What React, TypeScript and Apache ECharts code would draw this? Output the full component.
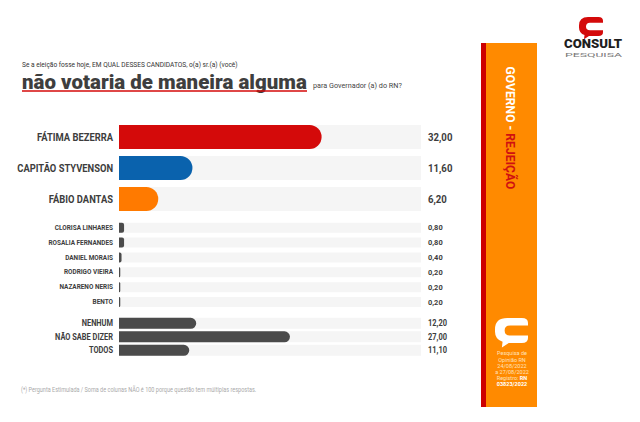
import React, { useEffect, useRef } from "react";
import * as echarts from "echarts";

const topCats = ["FÁTIMA BEZERRA", "CAPITÃO STYVENSON", "FÁBIO DANTAS"];
const topVals = [32.0, 11.6, 6.2];
const topColors = ["#d40a0a", "#0a62ad", "#ff7a00"];

const midCats = ["CLORISA LINHARES", "ROSALIA FERNANDES", "DANIEL MORAIS", "RODRIGO VIEIRA", "NAZARENO NERIS", "BENTO"];
const midVals = [0.8, 0.8, 0.4, 0.2, 0.2, 0.2];

const botCats = ["NENHUM", "NÃO SABE DIZER", "TODOS"];
const botVals = [12.2, 27.0, 11.1];

const MAX = 47.7;
const GRAY = "#4b4b4b";
const TRACK = "#f5f5f5";
const LABEL_COLOR = "#3d3d3d";

const LOGO_D =
  "M9 0 L19.5 0 Q24 0 24 4 L24 6 L11 6 Q7 6 7 10 Q7 14 11 14 L24 14 L24 16 Q24 20 19.5 20 L10 20 L5 23.5 L5.5 19 Q0 17 0 11 L0 9 Q0 0 9 0 Z";

let registered = false;
function registerLogo() {
  if (registered) return;
  echarts.graphic.registerShape("clogo", (echarts.graphic as any).extendPath(LOGO_D, {}));
  registered = true;
}

function fmt(v: number) {
  return v.toFixed(2).replace(".", ",");
}

let ctx: CanvasRenderingContext2D | null = null;
function fit(text: string, font: string, target: number) {
  if (!ctx) ctx = document.createElement("canvas").getContext("2d");
  if (!ctx) return 1;
  ctx.font = font;
  const w = ctx.measureText(text).width;
  return w > 0 ? target / w : 1;
}

export default function App() {
  const ref = useRef<HTMLDivElement>(null);
  useEffect(() => {
    if (!ref.current) return;
    registerLogo();
    const chart = echarts.init(ref.current, null, { renderer: "svg" });

    const groups = [
      { cats: topCats, vals: topVals, top: 121.5, height: 93, bw: 24, r: 12, colors: topColors,
        lf: "bold 10px Roboto", lref: "FÁTIMA BEZERRA", lw: 76, vf: "bold 10px Roboto", vref: "32,00", vw: 24.4 },
      { cats: midCats, vals: midVals, top: 220.3, height: 89.2, bw: 10, r: 2, colors: null,
        lf: "bold 7.5px Roboto", lref: "ROSALIA FERNANDES", lw: 64.7, vf: "bold 7.5px Roboto", vref: "0,80", vw: 14.7 },
      { cats: botCats, vals: botVals, top: 316.6, height: 40.5, bw: 11, r: 5.5, colors: null,
        lf: "bold 8.5px Roboto", lref: "NÃO SABE DIZER", lw: 58, vf: "bold 8.5px Roboto", vref: "27,00", vw: 19 },
    ];

    const grid: any[] = [];
    const xAxis: any[] = [];
    const yAxis: any[] = [];
    const series: any[] = [];
    groups.forEach((g, i) => {
      grid.push({ left: 119, width: 302, top: g.top, height: g.height });
      xAxis.push({ type: "value", gridIndex: i, min: 0, max: MAX, show: false });
      yAxis.push({
        type: "category",
        gridIndex: i,
        data: g.cats,
        inverse: true,
        axisLine: { show: false },
        axisTick: { show: false },
        splitLine: { show: false },
        axisLabel: { show: false },
      });
      series.push({
        type: "bar",
        xAxisIndex: i,
        yAxisIndex: i,
        data: g.cats.map(() => MAX),
        barWidth: g.bw,
        silent: true,
        itemStyle: { color: TRACK },
      });
      series.push({
        type: "bar",
        xAxisIndex: i,
        yAxisIndex: i,
        barGap: "-100%",
        barWidth: g.bw,
        data: g.vals.map((v, k) => ({
          value: v,
          itemStyle: { color: g.colors ? g.colors[k] : GRAY, borderRadius: [0, g.r, g.r, 0] },
        })),
      });
    });

    chart.setOption({
      animation: false,
      backgroundColor: "#ffffff",
      grid,
      xAxis,
      yAxis,
      series,
    });

    const subText = "Se a eleição fosse hoje, EM QUAL DESSES CANDIDATOS, o(a) sr.(a) (você)";
    const subFont = "8px Roboto";
    const titleText = "não votaria de maneira alguma";
    const titleFont = "900 21px Roboto";
    const paraText = "para Governador (a) do RN?";
    const paraFont = "7.5px Roboto";
    const footText = "(*) Pergunta Estimulada / Soma de colunas NÃO é 100 porque questão tem múltiplas respostas.";
    const footFont = "6.5px Roboto";
    const vertText = "GOVERNO - REJEIÇÃO";
    const vertFont = "bold 13px Roboto";
    const consultFont = "900 12px Roboto";
    const pesqFont = "6px Roboto";

    const infoLines = ["Pesquisa de", "Opinião RN", "24/08/2022", "a 27/08/2022"];

    const graphic: any[] = [
      { type: "text", x: 22, y: 64, scaleX: fit(subText, subFont, 216), style: { text: subText, font: subFont, fill: "#333", verticalAlign: "middle" } },
      { type: "text", x: 22, y: 82, scaleX: fit(titleText, titleFont, 285), style: { text: titleText, font: titleFont, fill: "#3e3e3e", verticalAlign: "middle" } },
      { type: "line", shape: { x1: 22, y1: 91, x2: 307, y2: 91 }, style: { stroke: "#d40a0a", lineWidth: 1.5 } },
      { type: "text", x: 313, y: 85, scaleX: fit(paraText, paraFont, 89), style: { text: paraText, font: paraFont, fill: "#444", verticalAlign: "middle" } },
      { type: "text", x: 21, y: 389, scaleX: fit(footText, footFont, 236), style: { text: footText, font: footFont, fill: "#aaa", verticalAlign: "middle" } },
      // logo
      { type: "clogo", x: 579, y: 17, scaleX: 24 / 24, scaleY: 19 / 20, style: { fill: "#d40a0a" } },
      { type: "text", x: 593, y: 44, scaleX: fit("CONSULT", consultFont, 58), style: { text: "CONSULT", font: consultFont, fill: "#1e1e1e", align: "center", verticalAlign: "middle" } },
      { type: "text", x: 593.5, y: 55, scaleX: fit("PESQUISA", pesqFont, 57), style: { text: "PESQUISA", font: pesqFont, fill: "#777", align: "center", verticalAlign: "middle" } },
      // sidebar
      { type: "rect", shape: { x: 481, y: 43, width: 5, height: 364 }, style: { fill: "#cc0000" } },
      { type: "rect", shape: { x: 486, y: 43, width: 51, height: 364 }, style: { fill: "#ff8a00" } },
      {
        type: "text",
        x: 511,
        y: 128,
        rotation: -Math.PI / 2,
        scaleX: fit(vertText, vertFont, 123),
        style: {
          text: "{w|GOVERNO - }{r|REJEIÇÃO}",
          align: "center",
          verticalAlign: "middle",
          rich: {
            w: { fill: "#ffffff", font: vertFont },
            r: { fill: "#d01010", font: vertFont },
          },
        },
      },
      { type: "clogo", x: 495, y: 318, scaleX: 33 / 24, scaleY: 25 / 20, style: { fill: "#ffffff" } },
    ];
    infoLines.forEach((t, k) => {
      graphic.push({ type: "text", x: 512, y: 353.3 + k * 6.2, style: { text: t, font: "5.5px Roboto", fill: "#ffe2bd", align: "center", verticalAlign: "middle" } });
    });
    graphic.push({
      type: "text",
      x: 512,
      y: 353.3 + 4 * 6.2,
      style: {
        text: "{a|Registro: }{b|RN}",
        align: "center",
        verticalAlign: "middle",
        rich: { a: { font: "5.5px Roboto", fill: "#ffe2bd" }, b: { font: "bold 5.5px Roboto", fill: "#ffffff" } },
      },
    });
    graphic.push({ type: "text", x: 512, y: 353.3 + 5 * 6.2, style: { text: "03823/2022", font: "bold 5.5px Roboto", fill: "#ffffff", align: "center", verticalAlign: "middle" } });

    // category and value labels placed through each group's axes
    groups.forEach((g, i) => {
      const ls = fit(g.lref, g.lf, g.lw);
      const vs = fit(g.vref, g.vf, g.vw);
      const labelX = (chart.convertToPixel({ xAxisIndex: i } as any, 0) as number) - 6;
      const valueX = (chart.convertToPixel({ xAxisIndex: i } as any, MAX) as number) + 7;
      g.cats.forEach((c, k) => {
        const y = chart.convertToPixel({ yAxisIndex: i } as any, c) as number;
        graphic.push({ type: "text", x: labelX, y, scaleX: ls, style: { text: c, font: g.lf, fill: LABEL_COLOR, align: "right", verticalAlign: "middle" } });
        graphic.push({ type: "text", x: valueX, y, scaleX: vs, style: { text: fmt(g.vals[k]), font: g.vf, fill: LABEL_COLOR, align: "left", verticalAlign: "middle" } });
      });
    });

    chart.setOption({ graphic });
    return () => chart.dispose();
  }, []);
  return <div ref={ref} style={{ position: "fixed", left: 0, top: 0, width: 640, height: 422 }} />;
}
